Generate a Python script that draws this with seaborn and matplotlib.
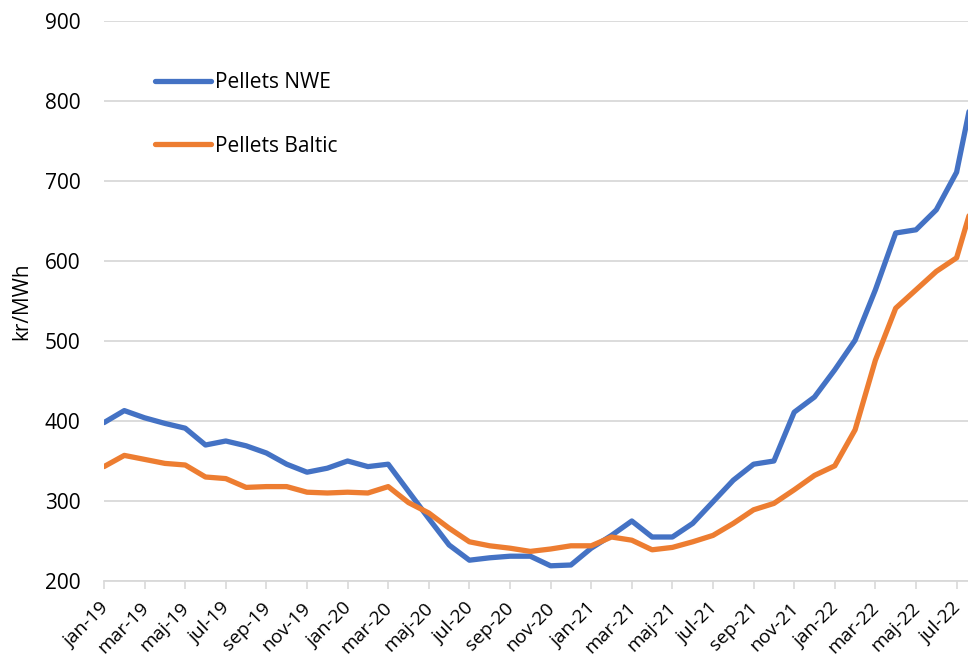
import matplotlib
matplotlib.use("Agg")
import matplotlib.pyplot as plt
import matplotlib.transforms as mtransforms
import seaborn as sns
import pandas as pd
import numpy as np

months = ["jan", "feb", "mar", "apr", "maj", "jun", "jul", "aug", "sep", "okt", "nov", "dec"]
periods = [f"{m}-{y}" for y in ["19", "20", "21"] for m in months] + \
          [f"{m}-22" for m in months[:8]]

nwe = [398, 413, 404, 397, 391, 370, 375, 369, 360, 346, 336, 341,
       350, 343, 346, 312, 278, 245, 226, 229, 231, 231, 219, 220,
       241, 257, 275, 255, 255, 272, 299, 326, 346, 350, 411, 430,
       464, 501, 564, 635, 639, 664, 711, 835]
baltic = [343, 357, 352, 347, 345, 330, 328, 317, 318, 318, 311, 310,
          311, 310, 318, 298, 285, 266, 249, 244, 241, 237, 240, 244,
          244, 255, 251, 239, 242, 249, 257, 272, 289, 297, 314, 332,
          344, 389, 476, 541, 564, 587, 604, 690]

series_names = ["Pellets NWE", "Pellets Baltic"]
colors = ["#4472C4", "#ED7D31"]
y_ticks = [200, 300, 400, 500, 600, 700, 800, 900]

df = pd.DataFrame({
    "idx": list(range(len(periods))) * 2,
    "value": nwe + baltic,
    "series": [series_names[0]] * len(periods) + [series_names[1]] * len(periods),
})

sns.set_theme(style="white")
plt.rcParams["font.family"] = ["Open Sans", "DejaVu Sans"]
plt.rcParams["text.color"] = "#000000"

fig = plt.figure(figsize=(9.68, 6.61), dpi=100)
ax = fig.add_axes([104 / 968, 1 - 581 / 661, 1 - 104 / 968, 560 / 661])

sns.lineplot(data=df, x="idx", y="value", hue="series", palette=colors,
             linewidth=3.8, ax=ax, legend=True)

ax.set_ylim(200, 900)
ax.set_xlim(0, (968 - 104) / 20.3)
ax.set_yticks(y_ticks)
ax.set_yticklabels([str(v) for v in y_ticks], fontsize=15, color="#000000")
ax.yaxis.grid(True, color="#d9d9d9", linewidth=1.3)
ax.set_axisbelow(True)

tick_pos = list(range(0, len(periods), 2))
ax.set_xticks(tick_pos)
ax.set_xticklabels([periods[i] for i in tick_pos], rotation=45, ha="right",
                   rotation_mode="anchor", fontsize=13.8, color="#000000")
ax.tick_params(axis="x", which="both", bottom=True, length=6, width=1.2,
               color="#d9d9d9", pad=7)
ax.tick_params(axis="y", length=0, pad=17)

offset = mtransforms.ScaledTranslation(-5 / 100, 0, fig.dpi_scale_trans)
for lab in ax.get_xticklabels():
    lab.set_transform(lab.get_transform() + offset)

for s in ["top", "right", "left"]:
    ax.spines[s].set_visible(False)
ax.spines["bottom"].set_color("#d9d9d9")
ax.spines["bottom"].set_linewidth(1.3)

ax.set_xlabel("")
ax.set_ylabel("kr/MWh", fontsize=15, color="#000000", labelpad=9)

handles, labels = ax.get_legend_handles_labels()
leg = ax.legend(handles, labels, loc="upper left", bbox_to_anchor=(0.049, 0.923),
                frameon=False, fontsize=15, handlelength=2.7, handletextpad=0.2,
                labelspacing=2.03, borderaxespad=0)
for line in leg.get_lines():
    line.set_linewidth(3.8)
    line.set_solid_capstyle("round")
for t in leg.get_texts():
    t.set_color("#000000")

fig.savefig("out.png", dpi=100)
